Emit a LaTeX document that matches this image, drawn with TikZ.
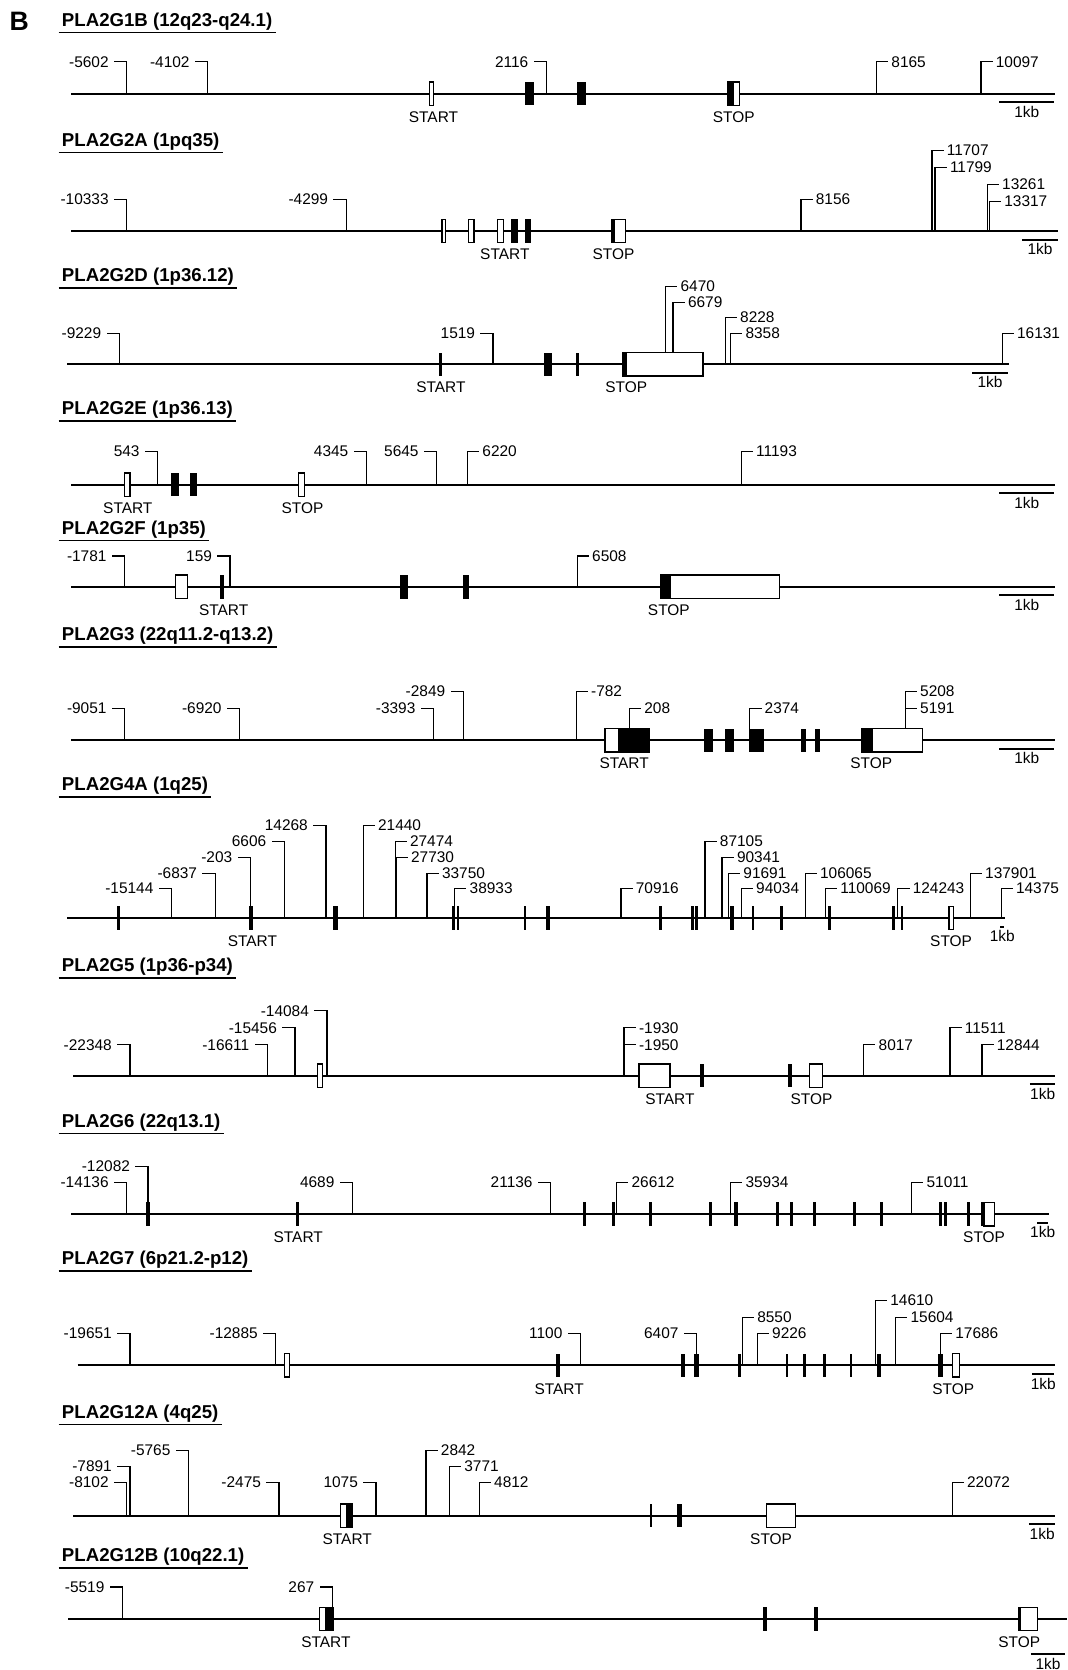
\documentclass[tikz,border=0pt]{standalone}
\usepackage{fontspec}
\setmainfont{Liberation Sans}
\newcommand{\gline}[3]{\def\gy{#1}\draw[gene] (#2,#1)--(#3,#1);}
\newcommand{\lblL}[4]{\node[num,anchor=east,outer xsep=5pt] (#1) at (#2-12,#3) {#4};\draw[lead] (#2,\gy) |- (#1.east);}
\newcommand{\lblR}[4]{\node[num,anchor=west] (#1) at (#2+11,#3) {#4};\draw[lead] (#2,\gy) |- (#1.west);}
\newcommand{\cds}[2]{\fill (#1,\gy-11) rectangle (#2,\gy+11);}
\newcommand{\utr}[2]{\draw[exo] (#1,\gy-11) rectangle (#2,\gy+11);}
\newcommand{\tagat}[3]{\node[tag] (#1) at (#2,\gy+22) {#3};}
\newcommand{\kb}[4][8]{\draw[kbar] (#3,\gy+#1)--(#4,\gy+#1);\node[tag] (#2) at ({(#3+#4)/2},\gy+#1+9) {1kb};}
\newcommand{\gtitle}[3]{\node[title,anchor=west] (#1) at (55,#2) {#3};\draw[uline] (#1.south west)--(#1.south east);}
\begin{document}
\begin{tikzpicture}[x=1pt,y=-1pt,every node/.style={font=\fontsize{14.5}{16}\selectfont},
  gene/.style={line width=2pt},lead/.style={line width=1.2pt},exo/.style={line width=1.2pt,fill=white},
  num/.style={inner sep=0pt,outer xsep=3pt},tag/.style={inner sep=0pt},kbar/.style={line width=1.8pt},
  title/.style={font=\bfseries\fontsize{17.5}{18}\selectfont,inner xsep=3pt,inner ysep=2pt},uline/.style={line width=1.3pt}]
\useasboundingbox (0,0) rectangle (1002,1568);
\node[font=\bfseries\fontsize{25}{25}\selectfont] (panel) at (18,20) {B};
% PLA2G1B
\gtitle{g1b}{20}{PLA2G1B (12q23-q24.1)}
\gline{88}{67}{991}
\lblL{g1b1}{119}{58}{-5602}\lblL{g1b2}{195}{58}{-4102}\lblL{g1b3}{513}{58}{2116}
\lblR{g1b4}{823}{58}{8165}\lblR{g1b5}{921}{58}{10097}
\utr{403}{407}\cds{493}{501}\cds{542}{550}\utr{683}{694}\cds{683}{689}
\tagat{g1b6}{407}{START}\tagat{g1b7}{689}{STOP}\kb{g1b8}{938}{990}
% PLA2G2A
\gtitle{g2a}{133}{PLA2G2A (1pq35)}
\gline{217}{67}{993}
\lblL{g2a1}{119}{187}{-10333}\lblL{g2a2}{325}{187}{-4299}
\lblR{g2a3}{752}{187}{8156}\lblR{g2a4}{875}{141}{11707}\lblR{g2a5}{878}{157}{11799}
\lblR{g2a6}{927}{173}{13261}\lblR{g2a7}{929}{189}{13317}
\utr{415}{418}\utr{440}{445}\utr{467}{473}\cds{480}{486}\cds{493}{499}\utr{574}{587}\cds{574}{577}
\tagat{g2a8}{474}{START}\tagat{g2a9}{576}{STOP}\kb{g2a10}{960}{993}
% PLA2G2D
\gtitle{g2d}{260}{PLA2G2D (1p36.12)}
\gline{342}{63}{947}
\lblL{g2d1}{112}{313}{-9229}\lblL{g2d2}{463}{313}{1519}
\lblR{g2d3}{625}{269}{6470}\lblR{g2d4}{632}{284}{6679}\lblR{g2d5}{681}{298}{8228}
\lblR{g2d6}{686}{313}{8358}\lblR{g2d7}{941}{313}{16131}
\cds{412}{415}\cds{511}{518}\cds{541}{544}\utr{585}{660}\cds{585}{589}
\tagat{g2d8}{414}{START}\tagat{g2d9}{588}{STOP}\kb{g2d10}{913}{946}
% PLA2G2E
\gtitle{g2e}{385}{PLA2G2E (1p36.13)}
\gline{455}{67}{991}
\lblL{g2e1}{148}{424}{543}\lblL{g2e2}{344}{424}{4345}\lblL{g2e3}{410}{424}{5645}
\lblR{g2e4}{439}{424}{6220}\lblR{g2e5}{696}{424}{11193}
\utr{117}{122}\cds{161}{168}\cds{178}{185}\utr{280}{286}
\tagat{g2e6}{120}{START}\tagat{g2e7}{284}{STOP}\kb{g2e8}{938}{990}
% PLA2G2F
\gtitle{g2f}{497}{PLA2G2F (1p35)}
\gline{551}{67}{991}
\lblL{g2f1}{117}{522}{-1781}\lblL{g2f2}{216}{522}{159}\lblR{g2f3}{542}{522}{6508}
\utr{165}{176}\cds{207}{210}\cds{376}{383}\cds{435}{440}\utr{620}{732}\cds{620}{630}
\tagat{g2f4}{210}{START}\tagat{g2f5}{628}{STOP}\kb{g2f6}{938}{990}
% PLA2G3
\gtitle{g3}{597}{PLA2G3 (22q11.2-q13.2)}
\gline{695}{67}{991}
\lblL{g31}{117}{665}{-9051}\lblL{g32}{225}{665}{-6920}\lblL{g33}{407}{665}{-3393}\lblL{g34}{435}{649}{-2849}
\lblR{g35}{541}{649}{-782}\lblR{g36}{591}{665}{208}\lblR{g37}{704}{665}{2374}
\lblR{g38}{850}{649}{5208}\lblR{g39}{850}{665}{5191}
\utr{568}{610}\cds{580}{610}\cds{661}{669}\cds{681}{689}\cds{703}{717}\cds{752}{757}\cds{765}{770}
\utr{809}{866}\cds{809}{820}
\tagat{g310}{586}{START}\tagat{g311}{818}{STOP}\kb{g312}{938}{990}
% PLA2G4A
\gtitle{g4a}{738}{PLA2G4A (1q25)}
\gline{862}{63}{944}
\lblL{g4a1}{161}{834}{-15144}\lblL{g4a2}{202}{820}{-6837}\lblL{g4a3}{235}{805}{-203}
\lblL{g4a4}{267}{790}{6606}\lblL{g4a5}{306}{775}{14268}
\lblR{g4a6}{341}{775}{21440}\lblR{g4a7}{371}{790}{27474}\lblR{g4a8}{372}{805}{27730}
\lblR{g4a9}{401}{820}{33750}\lblR{g4a10}{427}{834}{38933}\lblR{g4a11}{583}{834}{70916}
\lblR{g4a12}{662}{790}{87105}\lblR{g4a13}{678}{805}{90341}\lblR{g4a14}{684}{820}{91691}
\lblR{g4a15}{696}{834}{94034}\lblR{g4a16}{756}{820}{106065}\lblR{g4a17}{775}{834}{110069}
\lblR{g4a18}{843}{834}{124243}\lblR{g4a19}{911}{820}{137901}\lblR{g4a20}{940}{834}{14375}
\foreach \x in {111,426,430,493,620,650,654,707,734,779,839,847} {\cds{\x-1.2}{\x+1.2}}
\cds{234}{237.5}\cds{313}{317}\cds{513}{516.5}\cds{685}{689}\utr{891}{895}
\tagat{g4a21}{237}{START}\tagat{g4a22}{893}{STOP}\kb{g4a23}{939}{943}
% PLA2G5
\gtitle{g5}{908}{PLA2G5 (1p36-p34)}
\gline{1010}{69}{991}
\lblL{g51}{122}{981}{-22348}\lblL{g52}{251}{981}{-16611}\lblL{g53}{277}{965}{-15456}\lblL{g54}{307}{949}{-14084}
\lblR{g55}{586}{965}{-1930}\lblR{g56}{586}{981}{-1950}\lblR{g57}{811}{981}{8017}
\lblR{g58}{892}{965}{11511}\lblR{g59}{922}{981}{12844}
\utr{298}{303}\utr{600}{629}\cds{657}{661}\cds{740}{744}\utr{760}{772}
\tagat{g510}{629}{START}\tagat{g511}{762}{STOP}\kb{g512}{967}{991}
% PLA2G6
\gtitle{g6}{1054}{PLA2G6 (22q13.1)}
\gline{1140}{67}{985}
\lblL{g61}{119}{1110}{-14136}\lblL{g62}{139}{1095}{-12082}\lblL{g63}{331}{1110}{4689}\lblL{g64}{517}{1110}{21136}
\lblR{g65}{579}{1110}{26612}\lblR{g66}{686}{1110}{35934}\lblR{g67}{856}{1110}{51011}
\foreach \x in {139,279,549,576,611,667,691,730,743,765,802,828,883,888,909} {\cds{\x-1.5}{\x+1.5}}
\cds{921}{924}\utr{924}{934}
\tagat{g68}{280}{START}\tagat{g69}{924}{STOP}\kb{g610}{974}{984}
% PLA2G7
\gtitle{g7}{1183}{PLA2G7 (6p21.2-p12)}
\gline{1282}{73}{991}
\lblL{g71}{122}{1252}{-19651}\lblL{g72}{259}{1252}{-12885}\lblL{g73}{545}{1252}{1100}\lblL{g74}{654}{1252}{6407}
\lblR{g75}{697}{1237}{8550}\lblR{g76}{711}{1252}{9226}\lblR{g77}{822}{1221}{14610}
\lblR{g78}{841}{1237}{15604}\lblR{g79}{883}{1252}{17686}
\foreach \x in {694,739,755,774,799} {\cds{\x-1.3}{\x+1.3}}
\utr{267}{272}\cds{522}{526}\cds{639}{643}\cds{652}{656}\cds{823}{827}\cds{881}{885}\utr{894}{901}
\tagat{g710}{525}{START}\tagat{g711}{895}{STOP}\kb{g712}{969}{990}
% PLA2G12A
\gtitle{g12a}{1327}{PLA2G12A (4q25)}
\gline{1423}{69}{991}
\lblL{g12a1}{122}{1377}{-7891}\lblL{g12a2}{119}{1392}{-8102}\lblL{g12a3}{177}{1362}{-5765}
\lblL{g12a4}{262}{1392}{-2475}\lblL{g12a5}{353}{1392}{1075}
\lblR{g12a6}{400}{1362}{2842}\lblR{g12a7}{422}{1377}{3771}\lblR{g12a8}{450}{1392}{4812}\lblR{g12a9}{894}{1392}{22072}
\utr{320}{331}\cds{325}{331}\cds{610}{612.5}\cds{636}{640}\utr{720}{747}
\tagat{g12a10}{326}{START}\tagat{g12a11}{724}{STOP}\kb{g12a12}{966}{991}
% PLA2G12B
\gtitle{g12b}{1462}{PLA2G12B (10q22.1)}
\gline{1520}{64}{1002}
\lblL{g12b1}{115}{1490}{-5519}\lblL{g12b2}{312}{1490}{267}
\utr{300}{313}\cds{305}{313}\cds{716}{720}\cds{764}{768}\utr{957}{974}\cds{956}{958.5}
\tagat{g12b3}{306}{START}\tagat{g12b4}{957}{STOP}\kb[33]{g12b5}{968}{1000}
\end{tikzpicture}
\end{document}
